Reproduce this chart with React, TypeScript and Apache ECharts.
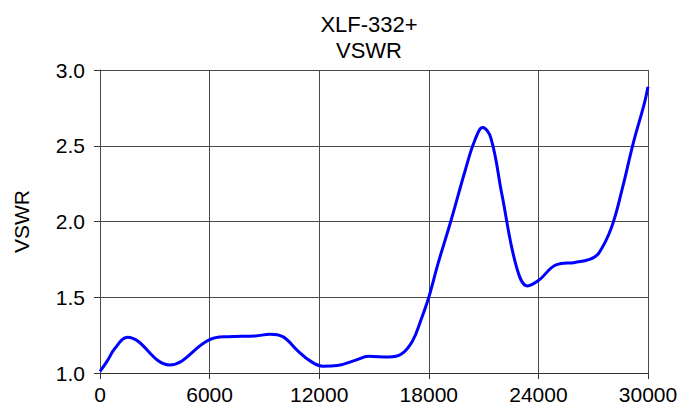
import React, { useEffect, useRef } from "react";
import * as echarts from "echarts";

const freq = [0, 400, 800, 1500, 3800, 6000, 7000, 8500, 9300, 10000, 10800, 11500, 12200, 13000, 14000, 14700, 15800, 16500, 17100, 17600, 18000, 18500, 19200, 20000, 20500, 20950, 21400, 22000, 22800, 23400, 24000, 25000, 26000, 26800, 27300, 28000, 28600, 29200, 29800, 30000];
const vswr = [1.01, 1.08, 1.16, 1.236, 1.053, 1.22, 1.24, 1.245, 1.255, 1.24, 1.15, 1.08, 1.045, 1.05, 1.085, 1.11, 1.105, 1.125, 1.21, 1.36, 1.5, 1.72, 2.0, 2.34, 2.53, 2.62, 2.55, 2.18, 1.7, 1.575, 1.61, 1.715, 1.73, 1.75, 1.79, 1.96, 2.22, 2.52, 2.78, 2.89];

const titleLines = ["XLF-332+", "VSWR"];
const yName = "VSWR";

export default function App() {
  const ref = useRef<HTMLDivElement>(null);
  useEffect(() => {
    const chart = echarts.init(ref.current!, null, { renderer: "svg" });
    const font = "'Liberation Sans', Arial, sans-serif";
    const gridColor = "#4a4a4a";
    chart.setOption({
      animation: false,
      backgroundColor: "#ffffff",
      textStyle: { fontFamily: font },
      graphic: titleLines.map((t, i) => ({
        type: "text",
        x: 369,
        y: 24 + i * 26,
        style: {
          text: t,
          fontFamily: font,
          fontSize: 22,
          fill: "#000",
          textAlign: "center",
          textVerticalAlign: "middle",
          verticalAlign: "middle",
        },
      })),
      grid: { left: 100, right: 49, top: 70, bottom: 42, show: false },
      xAxis: {
        type: "value",
        min: 0,
        max: 30000,
        interval: 6000,
        axisLine: { show: true, lineStyle: { color: "#333", width: 1 } },
        axisTick: { show: true, length: 6, lineStyle: { color: "#333" } },
        axisLabel: { fontFamily: font, fontSize: 21, color: "#000", margin: 11, formatter: (v: number) => String(v) },
        splitLine: { show: true, lineStyle: { color: gridColor, width: 1 } },
      },
      yAxis: {
        type: "value",
        min: 1.0,
        max: 3.0,
        interval: 0.5,
        name: yName,
        nameLocation: "middle",
        nameGap: 68,
        nameRotate: 90,
        nameTextStyle: { fontFamily: font, fontSize: 21, color: "#000", padding: [0, 0, 0, 0] },
        axisLine: { show: true, lineStyle: { color: gridColor, width: 1 } },
        axisTick: { show: true, inside: false, length: 6, lineStyle: { color: "#333" } },
        axisLabel: { fontFamily: font, fontSize: 21, color: "#000", margin: 15, formatter: (v: number) => v.toFixed(1) },
        splitLine: { show: true, lineStyle: { color: gridColor, width: 1 } },
      },
      series: [
        {
          type: "line",
          data: freq.map((f, i) => [f, vswr[i]]),
          smooth: 0.4,
          showSymbol: false,
          symbol: "none",
          lineStyle: { color: "#0000ff", width: 3 },
          clip: false,
        },
      ],
    });
    return () => chart.dispose();
  }, []);
  return <div ref={ref} style={{ width: 697, height: 415, position: "absolute", left: 0, top: 0 }} />;
}
